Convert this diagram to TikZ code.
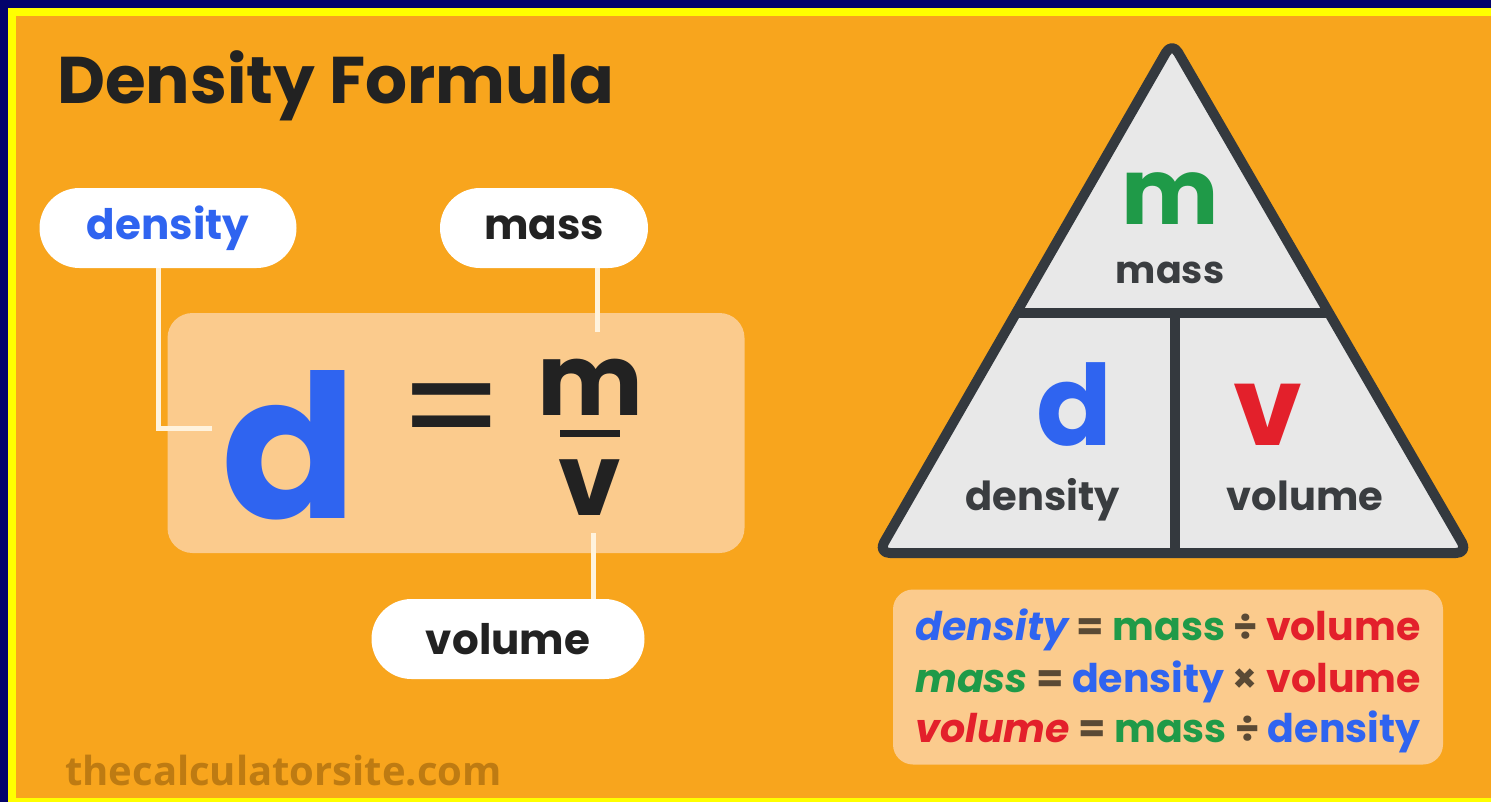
\documentclass[tikz,border=0pt]{standalone}
\usepackage{fontspec}
\setmainfont{Poppins}
\newfontfamily\sitefont{Open Sans}
\usetikzlibrary{positioning,calc}
\definecolor{navyedge}{HTML}{03036B}
\definecolor{yellowedge}{HTML}{FFFF00}
\definecolor{bgorange}{HTML}{F8A51D}
\definecolor{peach}{HTML}{FBCB8D}
\definecolor{leadcream}{HTML}{FFF3DD}
\definecolor{dblue}{HTML}{2F64F0}
\definecolor{mgreen}{HTML}{1F9A48}
\definecolor{vred}{HTML}{E3202B}
\definecolor{textdark}{HTML}{222222}
\definecolor{tridark}{HTML}{3A3D40}
\definecolor{trigray}{HTML}{E8E8E8}
\definecolor{triedge}{HTML}{34393E}
\definecolor{opbrown}{HTML}{5A4A35}
\definecolor{sitebrown}{HTML}{BE7B12}

\newcommand{\fsz}[1]{\fontsize{#1}{#1}\selectfont\bfseries}

\begin{document}
\begin{tikzpicture}[
  x=1pt, y=-1pt,
  txt/.style={inner sep=0pt, anchor=base},
  pill/.style={fill=white, rounded corners=40pt, minimum height=80pt, inner sep=0pt, font=\fsz{42}},
  lead/.style={draw=leadcream, line width=5pt},
  tri/.style={fill=trigray, draw=triedge, line width=10pt, rounded corners=12pt, line join=round},
  triline/.style={draw=triedge, line width=10pt},
]
  \useasboundingbox (0,0) rectangle (1491,801);

  % frame and background
  \fill[navyedge] (0,0) rectangle (1500,810);
  \fill[yellowedge] (8,8) rectangle (1500,810);
  \fill[bgorange] (16,16) rectangle (1500,798);

  % Title
  \node[txt, anchor=base west, text=textdark, font=\fsz{66}] (title) at (57,103) {Density Formula};

  % Formula (left)
  \node[fill=peach, rounded corners=25pt, minimum width=577pt, minimum height=240pt] (eqbox) at (456,433) {};
  \node[pill, text=dblue, minimum width=257pt] (denspill) at (168,228) {density};
  \node[pill, text=textdark, minimum width=208pt] (masspill) at (544,228) {mass};
  \node[pill, text=textdark, minimum width=273pt] (volpill) at (508,639) {volume};

  \node[txt, text=dblue, font=\fsz{200}] (bigd) at (289,518) {d};
  \node[inner sep=0pt, text=textdark, font=\fontsize{150}{150}\selectfont\mdseries] (eqsign) at (452,422) {=};
  \node[txt, text=textdark, font=\fsz{100}] (fracm) at (590,415) {m};
  \node[txt, text=textdark, font=\fsz{100}] (fracv) at (590,515) {v};
  \draw[textdark, line width=7pt] (560,433) -- (620,433);

  % Leaders
  \coordinate (dlead) at (212,428);
  \coordinate (mlead) at (597,332);
  \coordinate (vlead) at (593,533);
  \draw[lead] ([xshift=-10pt]denspill.south) |- (dlead);
  \draw[lead] (masspill.south -| mlead) -- (mlead);
  \draw[lead] (volpill.north -| vlead) -- (vlead);

  % Triangle (right)
  \coordinate (ta) at (1172,42);
  \coordinate (tl) at (878,553);
  \coordinate (tr) at (1468,553);
  \coordinate (tmid) at (1175,313);
  \filldraw[tri] (ta) -- (tl) -- (tr) -- cycle;
  \draw[triline] ($(ta)!0.53!(tl)$) -- ($(ta)!0.53!(tr)$);
  \draw[triline] (tmid) -- (tmid |- tl);

  \node[txt, text=mgreen, font=\fsz{92}] (trim) at (1170,224) {m};
  \node[txt, text=tridark, font=\fsz{38}] (trimass) at (1170,283) {mass};
  \node[txt, text=dblue, font=\fsz{112}] (trid) at (1075,445) {d};
  \node[txt, text=tridark, font=\fsz{40}] (tridens) at (1043,510) {density};
  \node[txt, text=vred, font=\fsz{110}] (triv) at (1268,445) {v};
  \node[txt, text=tridark, font=\fsz{40}] (trivol) at (1305,510) {volume};

  % Rules box
  \node[fill=peach, rounded corners=20pt, minimum width=550pt, minimum height=175pt] (rulebox) at (1168,677) {};
  \node[txt, font=\fsz{39.5}] (rule1) at (1168,640) {\textcolor{dblue}{\itshape density} \textcolor{opbrown}{=} \textcolor{mgreen}{mass} \textcolor{opbrown}{÷} \textcolor{vred}{volume}};
  \node[txt, font=\fsz{39.5}] (rule2) at (1168,692) {\textcolor{mgreen}{\itshape mass} \textcolor{opbrown}{=} \textcolor{dblue}{density} \textcolor{opbrown}{×} \textcolor{vred}{volume}};
  \node[txt, font=\fsz{39.5}] (rule3) at (1168,742) {\textcolor{vred}{\itshape volume} \textcolor{opbrown}{=} \textcolor{mgreen}{mass} \textcolor{opbrown}{÷} \textcolor{dblue}{density}};

  % Footer
  \node[txt, anchor=base west, text=sitebrown, font=\sitefont\fsz{40}] (site) at (65,785) {thecalculatorsite.com};
\end{tikzpicture}
\end{document}
